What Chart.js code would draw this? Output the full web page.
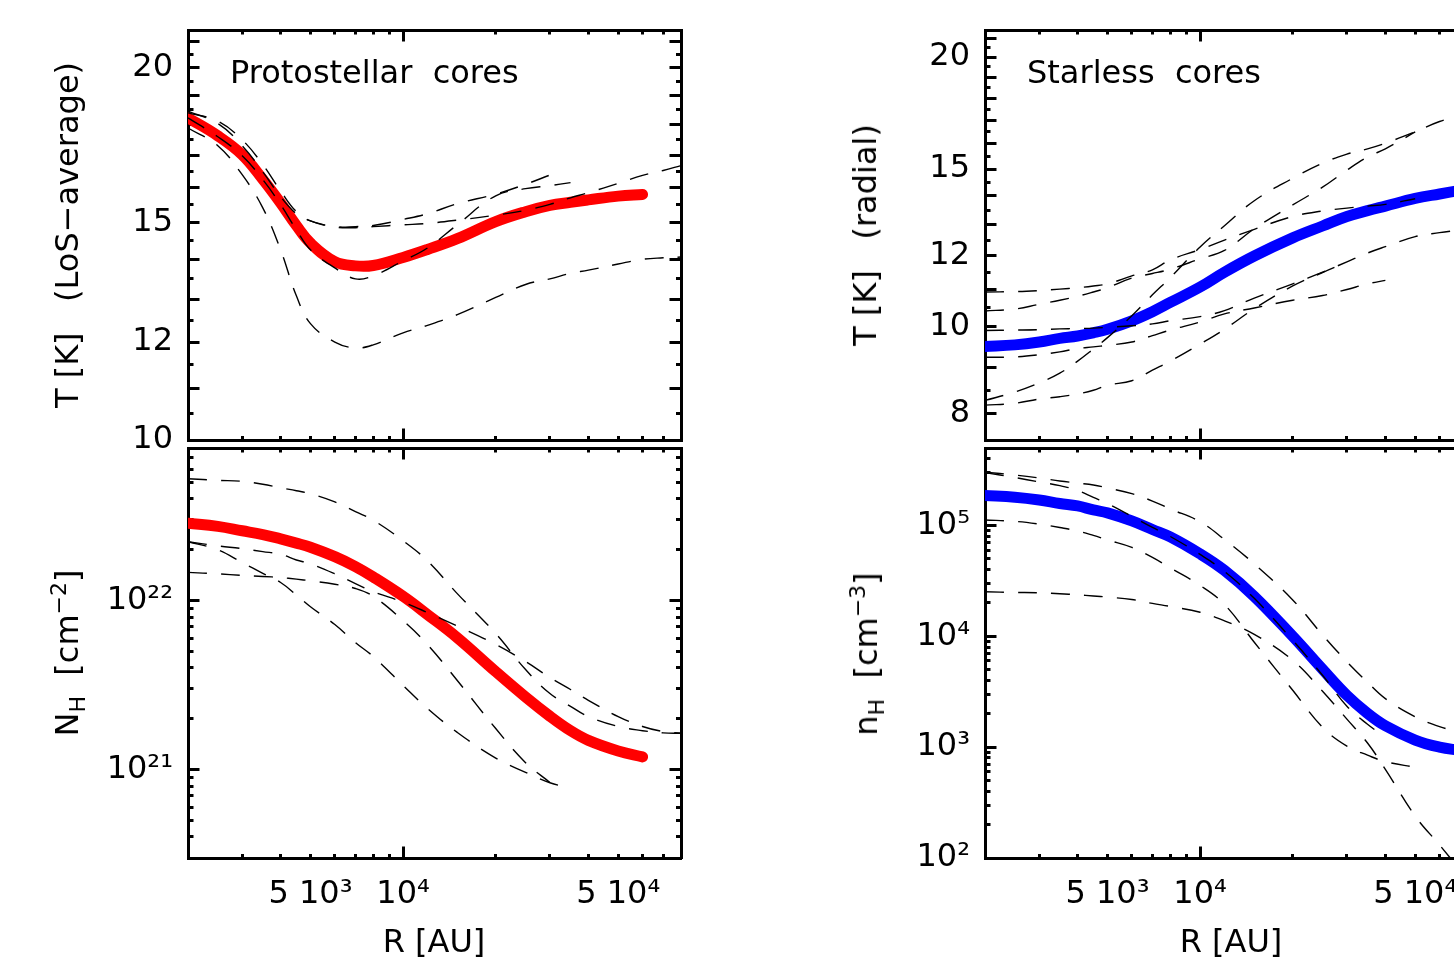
<!DOCTYPE html>
<html><head><meta charset="utf-8">
<script src="https://cdn.jsdelivr.net/npm/chart.js@4.4.1/dist/chart.umd.min.js"></script>
<style>
html,body{margin:0;padding:0;background:#fff;}
body{width:1454px;height:959px;overflow:hidden;position:relative;font-family:"DejaVu Sans";}
canvas{position:absolute;}
.txt{position:absolute;font-family:"DejaVu Sans";font-size:32px;line-height:32px;white-space:pre;color:#000;}
.ytitle{transform:translate(-50%,-50%) rotate(-90deg);}
.xtitle{transform:translateX(-50%);}
.txt sub,.txt sup{font-size:22px;line-height:0;}
</style></head><body>
<canvas id="cTL" width="720" height="460" style="left:0;top:0"></canvas>
<canvas id="cBL" width="720" height="539" style="left:0;top:420px"></canvas>
<canvas id="cTR" width="720" height="460" style="left:797px;top:0"></canvas>
<canvas id="cBR" width="720" height="539" style="left:797px;top:420px"></canvas>

<div class="txt" style="left:230px;top:56px">Protostellar  cores</div>
<div class="txt" style="left:1027px;top:56px">Starless  cores</div>
<div class="txt ytitle" style="left:67px;top:235px">T [K]   (LoS−average)</div>
<div class="txt ytitle" style="left:865px;top:235px">T [K]   (radial)</div>
<div class="txt ytitle" style="left:67px;top:653px">N<sub>H</sub>  [cm<sup>−2</sup>]</div>
<div class="txt ytitle" style="left:866px;top:654px">n<sub>H</sub>  [cm<sup>−3</sup>]</div>
<div class="txt xtitle" style="left:434px;top:925px">R [AU]</div>
<div class="txt xtitle" style="left:1231px;top:925px">R [AU]</div>

<script>
// ---------------- DATA ----------------
const radiusAU = [2000, 2500, 3000, 3500, 4000, 4500, 5000, 6000, 7000, 8000, 10000, 12000, 15000, 20000, 25000, 30000, 35000, 40000, 50000, 60000, 70000, 80000];

// Protostellar cores: LoS-average temperature [K]
const protoTempMean = [18.22, 17.62, 17.01, 16.25, 15.55, 14.91, 14.43, 13.94, 13.83, 13.84, 14.05, 14.26, 14.55, 15.02, 15.30, 15.48, 15.57, 15.64, 15.75, 15.80];
const protoTempA = [18.39, 18.11, 17.49, 16.70, 15.90, 15.30, 15.04, 14.87, 14.85, 14.88, 14.93, 14.97, 15.06, 15.20, 15.34, 15.51, 15.70, 15.85, 16.13, 16.37, 16.52, 16.67];
const protoTempB = [18.45, 18.03, 17.30, 16.48, 15.73, 15.24, 15.04, 14.88, 14.88, 14.91, 15.08, 15.24, 15.53, 15.81, 16.10, 16.38];
const protoTempC = [18.22, 17.59, 16.98, 16.24, 15.50, 14.79, 14.25, 13.78, 13.50, 13.58, 13.96, 14.30, 14.93, 15.76, 15.97, 16.06, 16.15];
const protoTempD = [17.88, 17.30, 16.39, 15.41, 14.25, 13.08, 12.42, 12.00, 11.87, 11.94, 12.21, 12.38, 12.63, 13.04, 13.36, 13.50, 13.64, 13.72, 13.88, 14.00, 14.04, 14.06];

// Protostellar cores: column density N_H [cm^-2]
const protoColMean = [2.87e22, 2.75e22, 2.59e22, 2.46e22, 2.32e22, 2.19e22, 2.07e22, 1.82e22, 1.59e22, 1.38e22, 1.06e22, 8.27e21, 6.03e21, 3.80e21, 2.69e21, 2.07e21, 1.70e21, 1.49e21, 1.29e21, 1.19e21];
const protoColA = [5.26e22, 5.15e22, 5.08e22, 4.88e22, 4.65e22, 4.47e22, 4.29e22, 3.84e22, 3.36e22, 2.99e22, 2.26e22, 1.72e22, 1.10e22, 6.38e21, 3.91e21, 2.82e21, 2.37e21, 2.06e21, 1.80e21, 1.70e21, 1.65e21, 1.64e21];
const protoColB = [2.23e22, 2.11e22, 2.03e22, 1.95e22, 1.88e22, 1.74e22, 1.65e22, 1.44e22, 1.26e22, 1.13e22, 9.80e21, 8.50e21, 7.07e21, 5.50e21, 4.36e21, 3.51e21, 2.98e21, 2.57e21, 2.06e21, 1.80e21, 1.68e21, 1.64e21];
const protoColC = [1.47e22, 1.44e22, 1.41e22, 1.39e22, 1.37e22, 1.34e22, 1.31e22, 1.25e22, 1.18e22, 1.06e22, 7.62e21, 5.50e21, 3.37e21, 1.75e21, 1.10e21, 8.4e20];
const protoColD = [2.23e22, 2.00e22, 1.68e22, 1.45e22, 1.28e22, 1.08e22, 9.2e21, 7.22e21, 5.65e21, 4.67e21, 3.15e21, 2.30e21, 1.66e21, 1.17e21, 9.64e20, 8.36e20, 7.8e20];

// Starless cores: radial temperature [K]
const starTempMean = [9.51, 9.55, 9.62, 9.71, 9.77, 9.85, 9.94, 10.16, 10.40, 10.65, 11.08, 11.51, 12.00, 12.57, 12.96, 13.28, 13.48, 13.64, 13.91, 14.07, 14.20];
const starTempA = [10.94, 10.95, 10.98, 11.02, 11.06, 11.11, 11.17, 11.40, 11.58, 11.88, 12.20, 12.50, 12.85, 13.28, 13.47, 13.57, 13.64, 13.70, 13.90];
const starTempB = [10.42, 10.47, 10.60, 10.71, 10.82, 10.94, 11.06, 11.34, 11.47, 11.60, 11.91, 12.17, 12.87, 13.68, 14.32, 14.96, 15.47, 15.80, 16.50];
const starTempC = [9.91, 9.92, 9.93, 9.95, 9.96, 9.97, 9.99, 10.03, 10.08, 10.16, 10.27, 10.43, 10.77, 11.17, 11.51, 11.82, 12.09, 12.29, 12.61, 12.74, 12.83, 12.91];
const starTempD = [9.25, 9.26, 9.31, 9.38, 9.46, 9.50, 9.54, 9.62, 9.78, 9.92, 10.13, 10.34, 10.50, 10.71, 10.84, 11.01, 11.17, 11.27];
const starTempE = [8.28, 8.46, 8.66, 8.88, 9.16, 9.45, 9.73, 10.29, 10.86, 11.35, 12.28, 12.97, 13.83, 14.65, 15.23, 15.59, 15.80, 16.03, 16.51, 16.95, 17.20, 17.44];
const starTempF = [8.18, 8.22, 8.31, 8.36, 8.42, 8.50, 8.61, 8.71, 8.95, 9.16, 9.57, 9.94, 10.48, 11.11, 11.50, 11.81];

// Starless cores: volume density n_H [cm^-3]
const starDensMean = [1.86e5, 1.80e5, 1.70e5, 1.58e5, 1.50e5, 1.38e5, 1.30e5, 1.10e5, 9.20e4, 7.88e4, 5.54e4, 3.93e4, 2.29e4, 1.00e4, 5.04e3, 2.93e3, 2.02e3, 1.56e3, 1.16e3, 1.00e3, 934];
const starDensA = [3.03e5, 2.85e5, 2.68e5, 2.52e5, 2.41e5, 2.32e5, 2.18e5, 1.94e5, 1.66e5, 1.41e5, 1.08e5, 7.48e4, 4.50e4, 2.13e4, 1.03e4, 5.89e3, 3.85e3, 2.74e3, 1.88e3, 1.53e3, 1.38e3, 1.31e3];
const starDensB = [3.00e5, 2.71e5, 2.47e5, 2.29e5, 2.07e5, 1.79e5, 1.58e5, 1.21e5, 9.59e4, 7.96e4, 5.48e4, 3.85e4, 2.20e4, 9.20e3, 4.45e3, 2.34e3, 1.61e3, 1.23e3];
const starDensC = [1.12e5, 1.09e5, 1.03e5, 9.59e4, 8.92e4, 8.13e4, 7.40e4, 6.34e4, 5.15e4, 4.14e4, 2.88e4, 1.94e4, 8.83e3, 3.26e3, 1.51e3, 1.02e3, 847, 740, 660];
const starDensD = [2.52e4, 2.49e4, 2.47e4, 2.42e4, 2.37e4, 2.31e4, 2.26e4, 2.15e4, 1.98e4, 1.86e4, 1.65e4, 1.38e4, 1.04e4, 6.08e3, 3.20e3, 1.79e3, 1.09e3, 631, 239, 131, 78];

// Tick values and labels
const xTickValues = [3000, 4000, 5000, 6000, 7000, 8000, 9000, 10000, 20000, 30000, 40000, 50000, 60000, 70000];
const xMajorTicks = [10000];
const xTickLabels = [[5000, '5 10³'], [10000, '10⁴'], [50000, '5 10⁴']];

const tlTickValues = [10, 10.5, 11, 11.5, 12, 12.5, 13, 13.5, 14, 14.5, 15, 15.5, 16, 16.5, 17, 17.5, 18, 18.5, 19, 19.5, 20, 20.5, 21];
const tlMajorTicks = [10, 11, 12, 13, 14, 15, 16, 17, 18, 19, 20, 21];
const tlTickLabels = [[10, '10'], [12, '12'], [15, '15'], [20, '20']];

const trTickValues = [8, 8.5, 9, 9.5, 10, 10.5, 11, 11.5, 12, 12.5, 13, 13.5, 14, 14.5, 15, 15.5, 16, 16.5, 17, 17.5, 18, 18.5, 19, 19.5, 20, 20.5, 21];
const trMajorTicks = [8, 9, 10, 11, 12, 13, 14, 15, 16, 17, 18, 19, 20, 21];
const trTickLabels = [[8, '8'], [10, '10'], [12, '12'], [15, '15'], [20, '20']];

const blTickValues = [4e20, 5e20, 6e20, 7e20, 8e20, 9e20, 1e21, 2e21, 3e21, 4e21, 5e21, 6e21, 7e21, 8e21, 9e21, 1e22, 2e22, 3e22, 4e22, 5e22, 6e22, 7e22];
const blMajorTicks = [1e21, 1e22];
const blTickLabels = [[1e21, '10²¹'], [1e22, '10²²']];

const brTickValues = [100, 200, 300, 400, 500, 600, 700, 800, 900, 1e3, 2e3, 3e3, 4e3, 5e3, 6e3, 7e3, 8e3, 9e3, 1e4, 2e4, 3e4, 4e4, 5e4, 6e4, 7e4, 8e4, 9e4, 1e5, 2e5, 3e5, 4e5];
const brMajorTicks = [1e2, 1e3, 1e4, 1e5];
const brTickLabels = [[1e2, '10²'], [1e3, '10³'], [1e4, '10⁴'], [1e5, '10⁵']];

// ---------------- STYLE / HELPERS ----------------
const FONT = 'DejaVu Sans';
const TICK_IN = 11.5;
const BORDER_W = 3;

function near(a, b) { return Math.abs(Math.log10(a) - Math.log10(b)) < 1e-6; }
function lookup(list, v) { for (const [k, t] of list) if (near(k, v)) return t; return ''; }
function isMajor(list, v) { return list.some(k => near(k, v)); }
function pts(vals) { return vals.map((v, i) => ({x: radiusAU[i], y: v})); }

function tickDash(pos, minorLen, major) {
  if (major) return [];
  const full = TICK_IN + BORDER_W / 2;
  if (pos === 'bottom' || pos === 'right') return [minorLen, 300];
  return [0, full - minorLen, 300, 0];
}

function makeAxis(pos, min, max, tickValues, majorValues, labels, size, pad) {
  const horiz = (pos === 'top' || pos === 'bottom');
  const minorLen = horiz ? 6 : 7;
  return {
    type: 'logarithmic', position: pos, min: min, max: max, display: true,
    afterBuildTicks: s => { s.ticks = tickValues.map(v => ({value: v})); },
    afterFit: s => {
      if (horiz) s.height = size; else s.width = size;
      s.paddingLeft = 0; s.paddingRight = 0; s.paddingTop = 0; s.paddingBottom = 0;
    },
    grid: {
      display: true, drawOnChartArea: false, drawTicks: true,
      tickLength: -TICK_IN, tickWidth: 3, tickColor: '#000', color: '#000', lineWidth: 1,
      tickBorderDash: c => (c.tick ? tickDash(pos, minorLen, isMajor(majorValues, c.tick.value)) : [])
    },
    border: { display: true, color: '#000', width: BORDER_W },
    ticks: {
      display: !!labels, autoSkip: false, maxRotation: 0, minRotation: 0,
      padding: pad, color: '#000', font: { family: FONT, size: 32 },
      callback: v => (labels ? lookup(labels, v) : '')
    }
  };
}

function solid(vals, color) {
  return { data: pts(vals), borderColor: color, borderWidth: 11, borderCapStyle: 'round',
           borderJoinStyle: 'round', pointRadius: 0, tension: 0.4, order: 1, xAxisID: 'x', yAxisID: 'y' };
}
function dashed(vals) {
  return { data: pts(vals), borderColor: '#000', borderWidth: 1.4, borderDash: [19, 14],
           pointRadius: 0, tension: 0.4, order: 0, xAxisID: 'x', yAxisID: 'y' };
}

function panel(id, y, showX, datasets) {
  const xH = showX ? 101 : 20;
  const top = showX ? 28 : 30;
  new Chart(document.getElementById(id), {
    type: 'line',
    data: { datasets: datasets },
    options: {
      responsive: false, animation: false, devicePixelRatio: 1,
      layout: { padding: { left: 0, right: 39, top: top, bottom: 0 }, autoPadding: false },
      plugins: { legend: { display: false }, tooltip: { enabled: false }, title: { display: false } },
      elements: { point: { radius: 0 } },
      scales: {
        x: makeAxis('bottom', 2000, 80000, xTickValues, xMajorTicks, showX ? xTickLabels : null, xH, 29),
        x2: makeAxis('top', 2000, 80000, xTickValues, xMajorTicks, null, 0, 0),
        y: makeAxis('left', y.min, y.max, y.ticks, y.major, y.labels, 188, 26.5),
        y2: makeAxis('right', y.min, y.max, y.ticks, y.major, null, 0, 0)
      }
    }
  });
}

panel('cTL', { min: 10, max: 21.46, ticks: tlTickValues, major: tlMajorTicks, labels: tlTickLabels }, false,
  [dashed(protoTempA), dashed(protoTempB), dashed(protoTempC), dashed(protoTempD), solid(protoTempMean, '#ff0000')]);

panel('cBL', { min: 3e20, max: 8e22, ticks: blTickValues, major: blMajorTicks, labels: blTickLabels }, true,
  [dashed(protoColA), dashed(protoColB), dashed(protoColC), dashed(protoColD), solid(protoColMean, '#ff0000')]);

panel('cTR', { min: 7.48, max: 21.44, ticks: trTickValues, major: trMajorTicks, labels: trTickLabels }, false,
  [dashed(starTempA), dashed(starTempB), dashed(starTempC), dashed(starTempD), dashed(starTempE), dashed(starTempF), solid(starTempMean, '#0000ff')]);

panel('cBR', { min: 100, max: 5e5, ticks: brTickValues, major: brMajorTicks, labels: brTickLabels }, true,
  [dashed(starDensA), dashed(starDensB), dashed(starDensC), dashed(starDensD), solid(starDensMean, '#0000ff')]);
</script>
</body></html>
